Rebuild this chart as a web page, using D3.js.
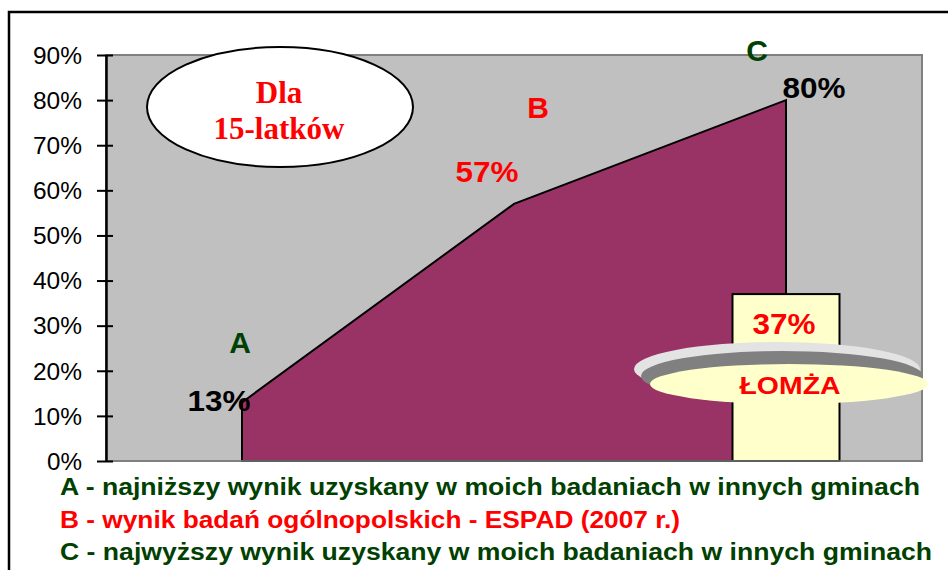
<!DOCTYPE html>
<html><head><meta charset="utf-8">
<script src="https://cdn.jsdelivr.net/npm/d3@7"></script>
<style>
html,body{margin:0;padding:0;background:#fff;}
svg{display:block;font-family:"Liberation Sans",Arial,sans-serif;}
</style></head>
<body><svg id="c" width="948" height="570"></svg>
<script>
const categories = ["A","B","C"];
const values = [13,57,80];
const valueColors = ["#000000","#ff0000","#000000"];
const letterColors = ["#004000","#ff0000","#004000"];
const lomzaValue = 37;
const lomzaLabel = "ŁOMŻA";
const yTicks = [0,10,20,30,40,50,60,70,80,90];
const legendLines = [
  {text:"A - najniższy wynik uzyskany w moich badaniach w innych gminach", color:"#004000"},
  {text:"B - wynik badań ogólnopolskich - ESPAD (2007 r.)", color:"#ff0000"},
  {text:"C - najwyższy wynik uzyskany w moich badaniach w innych gminach", color:"#004000"}
];
const legendLengths = [860, 620, 872];

const svg = d3.select("#c");
const L = 106, R = 922, T = 55, B = 461;
const y = d3.scaleLinear().domain([0,90]).range([B,T]);
const x = d3.scalePoint().domain(categories).range([242,786]);

// outer frame
svg.append("rect").attr("x",9).attr("y",12).attr("width",960).attr("height",600)
  .attr("fill","none").attr("stroke","#000").attr("stroke-width",2.5);

// plot area
svg.append("rect").attr("x",L).attr("y",T).attr("width",R-L).attr("height",B-T)
  .attr("fill","#c0c0c0").attr("stroke","#808080").attr("stroke-width",2);

// area
const data = categories.map((c,i)=>({c, v:values[i]}));
const area = d3.area().x(d=>x(d.c)).y0(y(0)).y1(d=>y(d.v));
svg.append("path").datum(data).attr("d", d=>area(d)+"")
  .attr("fill","#993366").attr("stroke","#000").attr("stroke-width",2).attr("stroke-linejoin","miter");

// Lomza bar
const bw = 107;
svg.append("rect").attr("x",x("C")-bw/2).attr("y",y(lomzaValue)).attr("width",bw).attr("height",y(0)-y(lomzaValue))
  .attr("fill","#ffffcc").attr("stroke","#000").attr("stroke-width",2);

// baseline
svg.append("line").attr("x1",L).attr("x2",R).attr("y1",B).attr("y2",B).attr("stroke","#808080").attr("stroke-width",1.5);

// y axis
const yAxis = d3.axisLeft(y).tickValues(yTicks).tickFormat(d=>d+"%").tickSize(0).tickPadding(0);
const ga = svg.append("g").attr("transform",`translate(${L},0)`).call(yAxis);
ga.select(".domain").attr("stroke","#000").attr("stroke-width",2.5);
ga.selectAll(".tick line").remove();
ga.selectAll(".tick").append("line").attr("x1",-9).attr("x2",7).attr("stroke","#000").attr("stroke-width",2);
ga.selectAll(".tick text").attr("x",-24).attr("dy","0.36em").attr("font-size",23)
  .attr("font-family","'Liberation Sans',Arial,sans-serif").attr("fill","#000")
  .attr("textLength",d=>d<10?35:49).attr("lengthAdjust","spacingAndGlyphs");

// value labels
const valPos = [{dx:-23,dy:9},{dx:-27,dy:-22},{dx:28,dy:-2}];
svg.selectAll(".vl").data(data).enter().append("text")
  .attr("x",(d,i)=>x(d.c)+valPos[i].dx).attr("y",(d,i)=>y(d.v)+valPos[i].dy)
  .attr("text-anchor","middle").attr("font-size",30).attr("font-weight","bold")
  .attr("textLength",63).attr("lengthAdjust","spacingAndGlyphs")
  .attr("fill",(d,i)=>valueColors[i]).text(d=>d.v+"%");

// letters
const letPos = [{dx:-2,dy:-49},{dx:24,dy:-86},{dx:-29,dy:-39}];
svg.selectAll(".lt").data(data).enter().append("text")
  .attr("x",(d,i)=>x(d.c)+letPos[i].dx).attr("y",(d,i)=>y(d.v)+letPos[i].dy)
  .attr("text-anchor","middle").attr("font-size",30).attr("font-weight","bold")
  .attr("fill",(d,i)=>letterColors[i]).text(d=>d.c);

// lomza value label
svg.append("text").attr("x",x("C")-2).attr("y",y(lomzaValue)+40).attr("text-anchor","middle")
  .attr("font-size",29).attr("font-weight","bold").attr("fill","#ff0000")
  .attr("textLength",63).attr("lengthAdjust","spacingAndGlyphs").text(lomzaValue+"%");

// Lomza disc
svg.append("ellipse").attr("cx",777).attr("cy",369).attr("rx",143).attr("ry",27).attr("fill","#e3e3e3");
svg.append("ellipse").attr("cx",782).attr("cy",376).attr("rx",141).attr("ry",25).attr("fill","#808080");
svg.append("ellipse").attr("cx",789).attr("cy",384).attr("rx",139).attr("ry",20).attr("fill","#ffffcc");
svg.append("text").attr("x",790).attr("y",394).attr("text-anchor","middle").attr("font-size",24)
  .attr("font-weight","bold").attr("fill","#ff0000")
  .attr("textLength",101).attr("lengthAdjust","spacingAndGlyphs").text(lomzaLabel);

// title ellipse
svg.append("ellipse").attr("cx",280).attr("cy",107).attr("rx",133).attr("ry",60)
  .attr("fill","#fff").attr("stroke","#000").attr("stroke-width",2);
svg.append("text").attr("x",279).attr("y",103).attr("text-anchor","middle").attr("font-size",31)
  .attr("font-weight","bold").attr("font-family","'Liberation Serif','Times New Roman',serif").attr("fill","#ff0000").text("Dla");
svg.append("text").attr("x",279).attr("y",139).attr("text-anchor","middle").attr("font-size",31)
  .attr("font-weight","bold").attr("font-family","'Liberation Serif','Times New Roman',serif").attr("fill","#ff0000").text("15-latków");

// legend
svg.selectAll(".lg").data(legendLines).enter().append("text")
  .attr("x",60).attr("y",(d,i)=>495+i*32.5).attr("font-size",23).attr("font-weight","bold")
  .attr("fill",d=>d.color).attr("textLength",(d,i)=>legendLengths[i]).attr("lengthAdjust","spacingAndGlyphs")
  .text(d=>d.text);
</script></body></html>
